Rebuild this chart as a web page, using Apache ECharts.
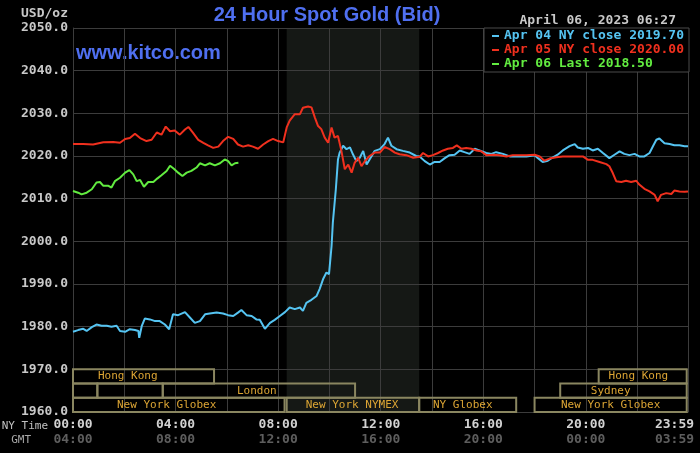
<!DOCTYPE html>
<html>
<head>
<meta charset="utf-8">
<script src="https://cdn.jsdelivr.net/npm/echarts@6/dist/echarts.min.js"></script>
<style>
  html, body { margin: 0; padding: 0; background: #000; }
  #chart { width: 700px; height: 453px; }
</style>
</head>
<body>
<div id="chart"></div>
<script>
// minutes after midnight NY time, bid price
const apr04Close = [
  [0, 1978.8], [12, 1979.2], [24, 1979.5], [32, 1979.0], [44, 1979.9], [55, 1980.5], [67, 1980.2],
  [79, 1980.2], [90, 1980.0], [102, 1980.2], [110, 1979.0], [122, 1978.8], [133, 1979.4], [145, 1979.2],
  [153, 1979.0], [155, 1977.4], [161, 1980.2], [168, 1981.9], [180, 1981.7], [192, 1981.3], [203, 1981.3],
  [215, 1980.5], [225, 1979.4], [234, 1982.9], [246, 1982.7], [262, 1983.4], [274, 1982.1], [285, 1980.9],
  [297, 1981.3], [309, 1982.9], [320, 1983.1], [336, 1983.3], [351, 1983.1], [363, 1982.7], [375, 1982.5],
  [386, 1983.3], [394, 1983.9], [406, 1982.7], [418, 1982.5], [429, 1981.7], [437, 1981.6], [449, 1979.5],
  [461, 1980.9], [472, 1981.6], [484, 1982.5], [496, 1983.4], [507, 1984.5], [519, 1984.1], [531, 1984.5],
  [538, 1983.7], [546, 1985.6], [558, 1986.3], [570, 1987.2], [577, 1988.8], [585, 1991.1], [593, 1992.7],
  [599, 1992.3], [605, 1998.9], [608, 2004.4], [615, 2012.2], [620, 2019.2], [624, 2020.8], [632, 2022.4],
  [640, 2021.6], [648, 2022.0], [655, 2020.4], [663, 2018.8], [671, 2019.6], [679, 2021.2], [687, 2018.0],
  [694, 2019.2], [706, 2021.2], [718, 2021.6], [729, 2022.8], [737, 2024.3], [745, 2022.4], [757, 2021.6],
  [772, 2021.2], [788, 2020.8], [803, 2020.0], [811, 2019.9], [823, 2018.8], [835, 2018.0], [846, 2018.6],
  [858, 2018.6], [870, 2019.5], [881, 2020.2], [893, 2020.3], [905, 2021.3], [916, 2020.9], [928, 2020.5],
  [940, 2021.7], [951, 2021.3], [967, 2020.7], [979, 2020.5], [990, 2020.9], [1006, 2020.5], [1022, 2019.9],
  [1037, 2019.9], [1061, 2019.9], [1080, 2020.2], [1088, 2019.5], [1099, 2018.6], [1111, 2018.9],
  [1123, 2019.7], [1134, 2020.3], [1146, 2021.3], [1162, 2022.3], [1174, 2022.8], [1181, 2022.0],
  [1193, 2021.7], [1205, 2021.9], [1216, 2021.3], [1228, 2021.7], [1240, 2020.7], [1255, 2019.5],
  [1267, 2020.3], [1279, 2021.1], [1290, 2020.5], [1302, 2020.2], [1314, 2020.5], [1325, 2019.9],
  [1337, 2019.9], [1349, 2020.7], [1357, 2022.3], [1365, 2023.8], [1372, 2024.1], [1384, 2023.0],
  [1396, 2022.8], [1407, 2022.5], [1419, 2022.5], [1431, 2022.3], [1439, 2022.3]
];

const apr05Close = [
  [0, 2022.8], [24, 2022.8], [47, 2022.7], [71, 2023.2], [94, 2023.3], [110, 2023.1], [122, 2024.0],
  [133, 2024.2], [145, 2025.2], [157, 2024.2], [172, 2023.5], [184, 2023.8], [196, 2025.5], [207, 2025.0],
  [217, 2026.9], [227, 2025.8], [238, 2026.0], [250, 2025.0], [262, 2026.2], [270, 2026.8], [281, 2025.4],
  [293, 2023.8], [305, 2023.1], [316, 2022.5], [328, 2021.9], [340, 2022.2], [351, 2023.5], [363, 2024.5],
  [375, 2024.0], [386, 2022.7], [398, 2022.2], [410, 2022.5], [421, 2022.2], [433, 2021.7], [445, 2022.7],
  [457, 2023.5], [468, 2024.0], [480, 2023.5], [492, 2023.2], [496, 2023.5], [500, 2026.7], [507, 2028.3],
  [519, 2029.8], [531, 2029.8], [538, 2031.3], [550, 2031.6], [558, 2031.4], [566, 2029.0], [573, 2027.1],
  [581, 2026.3], [589, 2024.3], [597, 2023.1], [605, 2026.7], [612, 2024.3], [620, 2024.7], [628, 2021.2],
  [636, 2016.9], [644, 2018.0], [652, 2016.1], [659, 2018.4], [667, 2019.6], [675, 2017.6], [683, 2018.8],
  [694, 2020.0], [706, 2020.8], [718, 2020.8], [729, 2022.1], [741, 2021.6], [753, 2020.8], [764, 2020.4],
  [780, 2020.2], [796, 2019.6], [811, 2019.8], [819, 2020.7], [831, 2019.9], [842, 2020.2], [854, 2020.7],
  [866, 2021.3], [877, 2021.7], [889, 2021.9], [898, 2022.5], [909, 2021.7], [920, 2021.9], [932, 2021.7],
  [944, 2021.3], [955, 2021.1], [967, 2020.2], [983, 2020.3], [998, 2020.2], [1014, 2019.9], [1029, 2020.2],
  [1045, 2020.2], [1061, 2020.2], [1080, 2020.3], [1092, 2019.9], [1103, 2018.9], [1115, 2019.4],
  [1131, 2019.7], [1146, 2019.9], [1162, 2019.9], [1177, 2019.9], [1193, 2019.9], [1205, 2019.1],
  [1216, 2019.1], [1232, 2018.6], [1248, 2018.1], [1255, 2017.6], [1263, 2016.0], [1271, 2014.1],
  [1283, 2013.9], [1294, 2014.2], [1306, 2013.9], [1318, 2014.2], [1325, 2013.3], [1337, 2012.3],
  [1349, 2011.7], [1361, 2010.9], [1368, 2009.4], [1376, 2010.9], [1388, 2011.3], [1400, 2011.1],
  [1407, 2011.9], [1419, 2011.7], [1431, 2011.6], [1439, 2011.7]
];

const apr06Last = [
  [0, 2011.8], [12, 2011.4], [20, 2011.0], [32, 2011.4], [44, 2012.2], [55, 2013.8], [63, 2013.9],
  [71, 2013.0], [83, 2013.0], [90, 2012.6], [98, 2014.1], [110, 2014.9], [122, 2016.1], [132, 2016.7],
  [141, 2015.7], [149, 2014.1], [157, 2014.4], [166, 2012.8], [176, 2013.9], [188, 2013.9], [197, 2014.7],
  [207, 2015.5], [219, 2016.5], [227, 2017.7], [236, 2017.0], [246, 2016.1], [256, 2015.3], [266, 2016.1],
  [277, 2016.5], [289, 2017.3], [297, 2018.3], [309, 2017.8], [320, 2018.3], [332, 2017.8], [344, 2018.3],
  [355, 2019.2], [363, 2018.8], [371, 2017.8], [379, 2018.3], [387, 2018.4]
];

const seriesNames = ['Apr 04 NY close 2019.70', 'Apr 05 NY close 2020.00', 'Apr 06 Last 2018.50'];

const tickMinutes = [0, 240, 480, 720, 960, 1200, 1439];
const nyTimeLabels = ['00:00', '04:00', '08:00', '12:00', '16:00', '20:00', '23:59'];
const gmtLabels = ['04:00', '08:00', '12:00', '16:00', '20:00', '00:00', '03:59'];

// NYMEX trading window (shaded)
const nymexWindow = [[500, 810]];

// [start, end, row, label time] ; names in sessionNames
const sessions = [
  [0, 330, 0, 128], [1230, 1436, 0, 1323],
  [0, 57, 1, 0], [57, 210, 1, 0], [210, 660, 1, 430], [1140, 1436, 1, 1258],
  [0, 495, 2, 219], [500, 810, 2, 653], [810, 1037, 2, 912], [1080, 1436, 2, 1258]
];
const sessionNames = ['Hong Kong', 'Hong Kong', '', '', 'London', 'Sydney',
  'New York Globex', 'New York NYMEX', 'NY Globex', 'New York Globex'];

const colors = ['#55c4f2', '#f0301e', '#62ec40'];
const mono = '"DejaVu Sans Mono", monospace';

const chart = echarts.init(document.getElementById('chart'));

function renderBand(params, api) {
  const p0 = api.coord([api.value(0), 2050]);
  const p1 = api.coord([api.value(1), 1960]);
  return {
    type: 'rect',
    shape: { x: p0[0], y: p0[1], width: p1[0] - p0[0], height: p1[1] - p0[1] },
    style: { fill: '#151815' }
  };
}

function renderSession(params, api) {
  const row = api.value(2);
  const top = 1970 - row * 10 / 3;
  const p0 = api.coord([api.value(0), top]);
  const p1 = api.coord([api.value(1), top - 10 / 3]);
  const children = [{
    type: 'rect',
    shape: { x: p0[0], y: p0[1], width: p1[0] - p0[0], height: p1[1] - p0[1] },
    style: { fill: null, stroke: '#8a8660', lineWidth: 2 }
  }];
  const name = sessionNames[params.dataIndex];
  if (name) {
    const lp = api.coord([api.value(3), top - 5 / 3]);
    children.push({
      type: 'text',
      x: lp[0], y: lp[1],
      style: { text: name, fill: '#dca534', font: '11px ' + mono, align: 'center', verticalAlign: 'middle' }
    });
  }
  return { type: 'group', children: children };
}

const option = {
  backgroundColor: '#000',
  animation: false,
  grid: { left: 73, right: 12, top: 28, bottom: 41, show: false, outerBoundsMode: 'none', containLabel: false },
  legend: {
    orient: 'vertical',
    left: 484, top: 28,
    padding: [1, 5, 1, 8],
    itemGap: 0,
    itemWidth: 7, itemHeight: 2,
    icon: 'rect',
    selectedMode: false,
    backgroundColor: '#000',
    borderColor: '#4a4a4a', borderWidth: 1,
    textStyle: { fontFamily: mono, fontSize: 13, fontWeight: 'bold', lineHeight: 14 },
    data: seriesNames.map((n, i) => ({ name: n, textStyle: { color: colors[i] } }))
  },
  xAxis: {
    type: 'value', min: 0, max: 1439, interval: 120,
    axisLine: { show: true, lineStyle: { color: '#3c3c3c' } },
    axisTick: { show: false },
    splitLine: { show: true, lineStyle: { color: '#3c3c3c', width: 1 } },
    axisLabel: {
      margin: 5,
      showMaxLabel: true,
      formatter: function (v) {
        const i = tickMinutes.indexOf(v);
        if (i < 0) return '';
        const key = v === 1439 ? 'c' : 'a';
        const key2 = v === 1439 ? 'd' : 'b';
        return '{' + key + '|' + nyTimeLabels[i] + '}\n{' + key2 + '|' + gmtLabels[i] + '}';
      },
      rich: {
        a: { fontFamily: mono, fontSize: 13, fontWeight: 'bold', color: '#d2d2d2', lineHeight: 15 },
        b: { fontFamily: mono, fontSize: 13, fontWeight: 'bold', color: '#5e5e5e', lineHeight: 15 },
        c: { fontFamily: mono, fontSize: 13, fontWeight: 'bold', color: '#d2d2d2', lineHeight: 15, padding: [0, 27, 0, 0] },
        d: { fontFamily: mono, fontSize: 13, fontWeight: 'bold', color: '#5e5e5e', lineHeight: 15, padding: [0, 27, 0, 0] }
      }
    }
  },
  yAxis: {
    type: 'value', min: 1960, max: 2050, interval: 10,
    axisLine: { show: true, lineStyle: { color: '#3c3c3c' } },
    axisTick: { show: false },
    splitLine: { show: true, lineStyle: { color: '#3c3c3c', width: 1 } },
    axisLabel: {
      margin: 5,
      fontFamily: mono, fontSize: 13, fontWeight: 'bold', color: '#c8c8c8',
      formatter: v => v.toFixed(1)
    }
  },
  graphic: [
    { type: 'text', x: 327, y: 15, style: { text: '24 Hour Spot Gold (Bid)', fill: '#4f6ff0', font: 'bold 20px "Liberation Sans", Arial, sans-serif', align: 'center', verticalAlign: 'middle' } },
    { type: 'text', x: 76, y: 53, style: { text: 'www.kitco.com', fill: '#4f6ff0', font: 'bold 20px "Liberation Sans", Arial, sans-serif', align: 'left', verticalAlign: 'middle' } },
    { type: 'text', x: 676, y: 21, style: { text: 'April 06, 2023 06:27', fill: '#c8c8c8', font: 'bold 13px ' + mono, align: 'right', verticalAlign: 'middle' } },
    { type: 'text', x: 68, y: 14, style: { text: 'USD/oz', fill: '#c8c8c8', font: 'bold 13px ' + mono, align: 'right', verticalAlign: 'middle' } },
    { type: 'text', x: 48, y: 426, style: { text: 'NY Time', fill: '#c0c0c0', font: '11px ' + mono, align: 'right', verticalAlign: 'middle' } },
    { type: 'text', x: 31, y: 440, style: { text: 'GMT', fill: '#a8a8a8', font: '11px ' + mono, align: 'right', verticalAlign: 'middle' } }
  ],
  series: [
    { type: 'custom', name: 'nymex', z: -1, silent: true, renderItem: renderBand, data: nymexWindow, encode: { x: [0, 1] } },
    { type: 'custom', name: 'sessions', silent: true, renderItem: renderSession, data: sessions, encode: { x: [0, 1, 3], y: 2 }, clip: false },
    { type: 'line', name: seriesNames[0], data: apr04Close, showSymbol: false, color: colors[0], lineStyle: { width: 2 } },
    { type: 'line', name: seriesNames[1], data: apr05Close, showSymbol: false, color: colors[1], lineStyle: { width: 2 } },
    { type: 'line', name: seriesNames[2], data: apr06Last, showSymbol: false, color: colors[2], lineStyle: { width: 2 } }
  ]
};

chart.setOption(option);
</script>
</body>
</html>
